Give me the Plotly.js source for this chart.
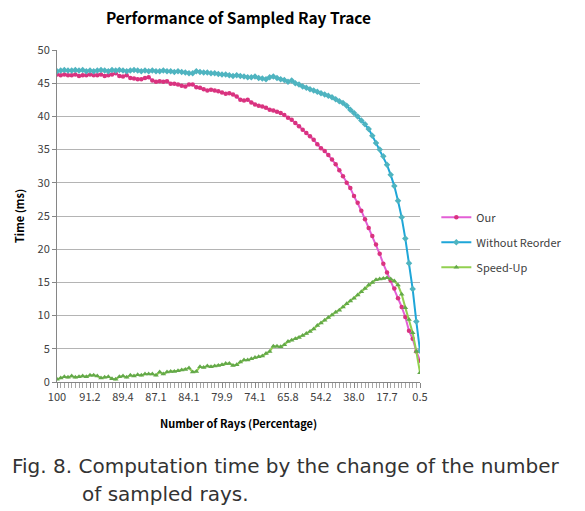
<!DOCTYPE html>
<html><head><meta charset="utf-8">
<script src="https://cdn.plot.ly/plotly-3.0.1.min.js"></script>
<style>body{margin:0;background:#fff}#chart{width:585px;height:511px}</style>
</head><body><div id="chart"></div>
<script>
const tickLabels = ["100","91.2","89.4","87.1","84.1","79.9","74.1","65.8","54.2","38.0","17.7","0.5"];

const our = [
46.3,46.2,46.3,46.2,46.2,46.3,46.1,46.2,46.2,46.3,
46.2,46.2,46.3,46.1,46.2,46.3,46.5,46.1,46.0,46.2,
45.8,45.7,45.6,45.6,45.8,45.9,45.4,45.2,45.3,45.2,
45.3,44.9,44.9,44.8,44.6,44.5,44.8,44.8,44.4,44.3,
44.1,43.9,44.0,43.9,43.8,43.6,43.4,43.5,43.3,43.0,
42.5,42.4,42.5,42.1,41.8,41.6,41.5,41.3,41.0,40.9,
40.7,40.5,40.2,39.8,39.5,39.0,38.5,38.0,37.5,37.0,
36.5,35.8,35.2,34.8,34.2,33.5,32.8,31.9,31.0,30.0,
29.2,28.0,27.0,25.8,24.5,23.2,22.0,20.7,19.3,17.8,
16.5,15.3,14.1,12.6,11.3,9.8,7.7,6.5,4.6,3.2];

const withoutReorder = [
46.8,46.9,47.0,46.9,46.9,47.0,46.9,47.0,46.8,46.9,
46.8,46.9,47.0,46.9,46.8,47.0,46.9,47.0,46.9,46.8,
46.9,47.0,46.9,46.8,46.9,46.8,46.9,46.8,46.8,46.9,
46.8,46.8,46.7,46.8,46.7,46.6,46.5,46.5,46.8,46.7,
46.6,46.6,46.5,46.5,46.4,46.3,46.3,46.2,46.1,46.2,
46.1,46.0,45.9,45.9,46.0,45.8,45.7,45.6,45.9,46.0,
45.8,45.6,45.5,45.2,45.4,45.0,44.8,44.5,44.3,44.1,
43.9,43.7,43.5,43.3,43.1,42.9,42.6,42.3,42.0,41.6,
41.0,40.5,40.0,39.4,38.8,38.1,37.1,36.0,35.0,34.0,
32.7,31.2,29.5,27.3,24.8,21.6,17.9,14.0,9.1,4.7];

const speedUp = [
0.4,0.6,0.8,0.7,0.9,0.7,0.8,0.9,0.8,1.0,
1.0,0.9,0.6,0.7,0.8,0.5,0.4,0.8,0.9,0.7,
1.0,0.9,1.1,1.0,1.2,1.2,1.2,1.0,1.5,1.2,
1.5,1.6,1.6,1.7,1.8,1.9,2.1,1.5,1.6,2.3,
2.2,2.4,2.3,2.4,2.5,2.6,2.8,2.8,2.5,2.6,
3.0,3.3,3.3,3.5,3.7,3.8,3.9,4.3,4.6,5.4,
5.4,5.3,5.6,6.1,6.3,6.5,6.7,7.0,7.3,7.6,
8.0,8.5,8.9,9.3,9.7,10.1,10.5,10.8,11.3,11.8,
12.2,12.6,13.1,13.6,14.1,14.6,15.0,15.4,15.5,15.6,
15.7,15.5,15.2,14.6,13.2,11.2,9.4,7.4,4.6,1.4];

const idx = our.map((_, i) => i);
const tickVals = tickLabels.map((_, k) => k * 9);

const FONT = "'Noto Sans CJK KR', 'Noto Sans', sans-serif";
const CAP = "'DejaVu Sans', sans-serif";

const traces = [
  {x: idx, y: our, name: 'Our', legendgroup: 'a', mode: 'lines+markers',
   line: {color: '#e35fd6', width: 2},
   marker: {symbol: 'circle', size: 4.5, color: '#d9337f'}},
  {x: idx, y: withoutReorder, name: 'Without Reorder', legendgroup: 'b', mode: 'lines+markers',
   line: {color: '#1ea6d8', width: 2},
   marker: {symbol: 'diamond', size: 5, color: '#4fb4c0'}},
  {x: idx, y: speedUp, name: 'Speed-Up', legendgroup: 'c', mode: 'lines+markers',
   line: {color: '#92d050', width: 2},
   marker: {symbol: 'triangle-up', size: 5, color: '#63a84a'}}
];

const layout = {
  width: 585, height: 511,
  margin: {l: 57, r: 165, t: 50, b: 129},
  paper_bgcolor: '#fff', plot_bgcolor: '#fff',
  font: {family: FONT, size: 11, color: '#404040'},
  title: {text: '<b>Performance of Sampled Ray Trace</b>', x: 0.5, xref: 'paper',
          y: 0.963, yref: 'container', yanchor: 'middle',
          font: {family: FONT, size: 15.5, color: '#000'}},
  xaxis: {range: [0, 99], tickvals: tickVals, ticktext: tickLabels,
          showgrid: false, zeroline: false, showline: true, linecolor: '#868686', linewidth: 1,
          ticks: 'outside', ticklen: 5, tickcolor: '#868686',
          minor: {tickvals: idx, ticks: 'outside', ticklen: 5, tickcolor: '#a6a6a6', showgrid: false},
          tickfont: {family: FONT, size: 11, color: '#404040'},
          title: {text: '<b>Number of Rays (Percentage)</b>', standoff: 17,
                  font: {family: FONT, size: 11, color: '#000'}}},
  yaxis: {range: [0, 50], dtick: 5, showgrid: true, gridcolor: '#b4b4b4', gridwidth: 1,
          zeroline: false, showline: true, linecolor: '#868686', linewidth: 1,
          ticks: 'outside', ticklen: 4, tickcolor: '#868686',
          tickfont: {family: FONT, size: 11, color: '#404040'},
          title: {text: '<b>Time (ms)</b>', standoff: 10,
                  font: {family: FONT, size: 11, color: '#000'}}},
  legend: {x: 1.045, xanchor: 'left', y: 0.54, yanchor: 'top', tracegroupgap: 6,
           font: {family: FONT, size: 11, color: '#404040'}, itemwidth: 30,
           bgcolor: 'rgba(0,0,0,0)'},
  showlegend: true,
  annotations: [
    {text: 'Fig. 8. Computation time by the change of the number', xref: 'paper', yref: 'paper',
     x: (10 - 57) / 363, y: (382 - 466) / 332, xanchor: 'left', yanchor: 'middle', showarrow: false,
     font: {family: CAP, size: 20, color: '#333'}},
    {text: 'of sampled rays.', xref: 'paper', yref: 'paper',
     x: (80 - 57) / 363, y: (382 - 494) / 332, xanchor: 'left', yanchor: 'middle', showarrow: false,
     font: {family: CAP, size: 20, color: '#333'}}
  ]
};

Plotly.newPlot('chart', traces, layout, {displayModeBar: false, staticPlot: true});
</script></body></html>
